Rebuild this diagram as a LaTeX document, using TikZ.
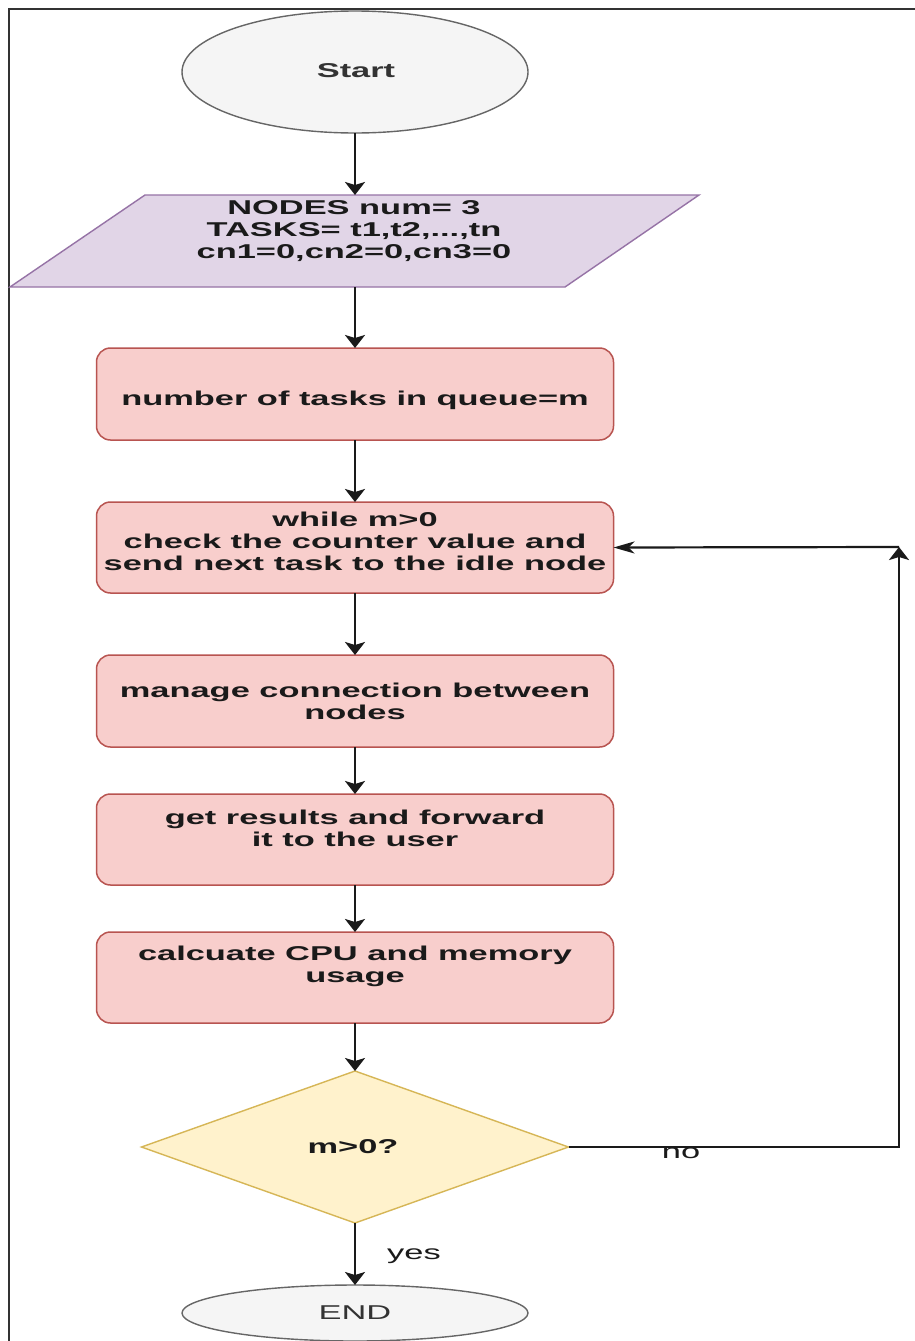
\documentclass[tikz,border=0pt]{standalone}
\usepackage{fontspec}
\newfontfamily\wf{Liberation Sans}[FakeStretch=1.72]
\usetikzlibrary{arrows.meta,shapes.geometric}
\definecolor{boxfill}{HTML}{F8CECC}
\definecolor{boxline}{HTML}{B85450}
\definecolor{parafill}{HTML}{E1D5E7}
\definecolor{paraline}{HTML}{9673A6}
\definecolor{diafill}{HTML}{FFF2CC}
\definecolor{dialine}{HTML}{D6B656}
\definecolor{ellfill}{HTML}{F5F5F5}
\definecolor{ellline}{HTML}{666666}
\definecolor{elltext}{HTML}{333333}
\definecolor{txt}{HTML}{1A1A1A}
\definecolor{conn}{HTML}{1A1A1A}
\definecolor{frame}{HTML}{333333}
\begin{document}
\begin{tikzpicture}[x=1pt,y=-1pt,
  every node/.style={outer sep=0pt, inner sep=0pt},
  txtfont/.style={font={\wf\bfseries\fontsize{20pt}{22pt}\selectfont}, text=txt, align=center},
  lblfont/.style={font={\wf\fontsize{20pt}{22pt}\selectfont}, text=txt},
  procbox/.style={draw=boxline, fill=boxfill, line width=1.5pt, rounded corners=14pt, minimum width=517pt, minimum height=92pt},
  term/.style={ellipse, draw=ellline, fill=ellfill, line width=1.4pt, minimum width=346pt},
  decision/.style={diamond, draw=dialine, fill=diafill, line width=1.4pt, minimum width=427pt, minimum height=152pt},
  vflow/.style={draw=conn, line width=2.4pt, -{Stealth[length=13pt,width=20pt,inset=3pt]}},
  hflow/.style={draw=conn, line width=2.2pt, -{Stealth[length=21pt,width=12pt,inset=6pt]}},
]
\useasboundingbox (0,0) rectangle (915,1341);
\fill[white] (0,0) rectangle (915,1341);
% frame
\draw[frame, line width=2.4pt] (915,9) -- (9,9) -- (9,1341);

% start
\node[term, minimum height=122pt] (start) at (355,72) {};
\node[txtfont, text=elltext] (starttxt) at (356,71) {Start};

% input parallelogram
\draw[draw=paraline, fill=parafill, line width=1.4pt] (145,195) -- (699,195) -- (565,287) -- (10,287) -- cycle;
\coordinate (paraN) at (355,195);
\coordinate (paraS) at (355,287);
\node[txtfont] (paratxt) at (354,231) {NODES num= 3\\TASKS= t1,t2,...,tn\\cn1=0,cn2=0,cn3=0};

% process boxes
\node[procbox] (b1) at (355,394) {};
\node[txtfont] (t1) at (355,400) {number of tasks in queue=m};
\node[procbox, minimum height=91pt] (b2) at (355,547.5) {};
\node[txtfont] (t2) at (355,541) {while m>0\\check the counter value and\\send next task to the idle node};
\node[procbox] (b3) at (355,701) {};
\node[txtfont] (t3) at (355,701) {manage connection between\\nodes};
\node[procbox, minimum height=91pt] (b4) at (355,839.5) {};
\node[txtfont] (t4) at (355,828) {get results and forward\\ it to the user};
\node[procbox, minimum height=91pt] (b5) at (355,977.5) {};
\node[txtfont] (t5) at (355,966) {calcuate CPU and memory\\usage};

% decision
\node[decision] (dia) at (355,1147) {};
\node[txtfont] (diatxt) at (353,1147) {m>0?};

% end
\node[term, minimum height=56pt] (endn) at (355,1313) {};
\node[lblfont, text=elltext] (endtxt) at (355,1313) {END};

% connectors
\draw[vflow] (start) -- (paraN);
\draw[vflow] (paraS) -- (b1);
\draw[vflow] (b1) -- (b2);
\draw[vflow] (b2) -- (b3);
\draw[vflow] (b3) -- (b4);
\draw[vflow] (b4) -- (b5);
\draw[vflow] (b5) -- (dia);
\draw[vflow] (dia) -- (endn);
\node[lblfont] (yeslbl) at (414,1256) {yes};

\coordinate (loopc) at (899,547);
\draw[vflow] (dia.east) -| (loopc);
\draw[hflow] (loopc) -- (b2.east);
\node[lblfont] (nolbl) at (681,1153) {no};
\end{tikzpicture}
\end{document}
